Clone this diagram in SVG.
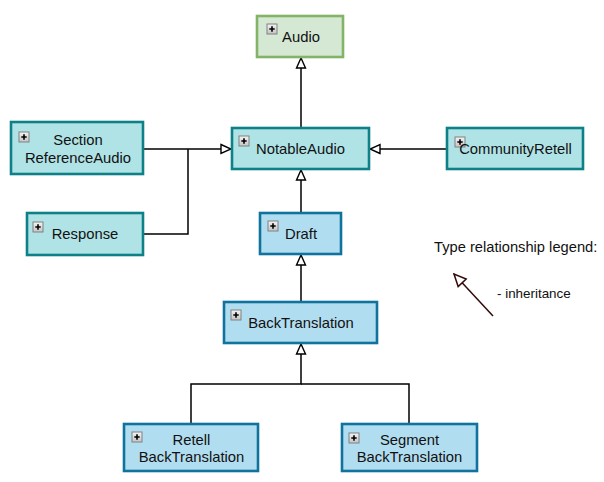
<svg xmlns="http://www.w3.org/2000/svg" width="604" height="482" viewBox="0 0 604 482">
<defs>
<marker id="inh" viewBox="0 0 12 12" refX="11" refY="6" markerWidth="12" markerHeight="12" markerUnits="userSpaceOnUse" orient="auto">
<path d="M1,1.5 L11,6 L1,10.5 Z" fill="#ffffff" stroke="#000000" stroke-width="1.4"/>
</marker>
<marker id="inhL" viewBox="0 0 14 14" refX="13" refY="7" markerWidth="14" markerHeight="14" markerUnits="userSpaceOnUse" orient="auto">
<path d="M1,1.5 L13,7 L1,12.5 Z" fill="#ffffff" stroke="#330a0a" stroke-width="1.5"/>
</marker>
<linearGradient id="ig" x1="0" y1="0" x2="0" y2="1">
<stop offset="0" stop-color="#f4f4f4"/>
<stop offset="1" stop-color="#c4c4c4"/>
</linearGradient>
<g id="plus">
<rect x="0" y="0" width="10" height="10" fill="url(#ig)" stroke="#808080" stroke-width="1"/>
<path d="M2.3,5 H7.7 M5,2.3 V7.7" stroke="#000000" stroke-width="1.6"/>
</g>
</defs>
<style>
text{font-family:"Liberation Sans",Arial,sans-serif;font-size:14.8px;fill:#111111;text-anchor:middle}
.green{fill:#d5e8d4;stroke:#82b366;stroke-width:2.6}
.teal{fill:#b0e3e6;stroke:#0e8088;stroke-width:2.6}
.blue{fill:#b1ddf0;stroke:#10739e;stroke-width:2.6}
.conn{fill:none;stroke:#000000;stroke-width:1.5}
.legend{text-anchor:start;font-size:14.7px}
.legsm{text-anchor:start;font-size:13.4px}
</style>
<rect x="0" y="0" width="604" height="482" fill="#ffffff"/>
<g id="connectors">
<path class="conn" d="M301,128 V58" marker-end="url(#inh)"/>
<path class="conn" d="M143,149 H231" marker-end="url(#inh)"/>
<path class="conn" d="M143,234 H188 V149"/>
<path class="conn" d="M447,149 H370" marker-end="url(#inh)"/>
<path class="conn" d="M301,213 V170" marker-end="url(#inh)"/>
<path class="conn" d="M301,302 V255" marker-end="url(#inh)"/>
<path class="conn" d="M191,424 V384 H301 V344" marker-end="url(#inh)"/>
<path class="conn" d="M409,424 V384 H301"/>
<path d="M493,316 L454,274" fill="none" stroke="#330a0a" stroke-width="1.5" marker-end="url(#inhL)"/>
</g>
<g id="node-audio">
<rect class="green" x="257" y="16" width="86" height="41"/>
<use href="#plus" x="267" y="24"/>
<text x="301" y="42">Audio</text>
</g>
<g id="node-notableaudio">
<rect class="teal" x="232" y="128" width="137" height="41"/>
<use href="#plus" x="239" y="136"/>
<text x="300.5" y="154">NotableAudio</text>
</g>
<g id="node-sectionreferenceaudio">
<rect class="teal" x="11" y="122" width="132" height="52"/>
<use href="#plus" x="19" y="132"/>
<text x="78" y="145">Section</text>
<text x="78" y="163">ReferenceAudio</text>
</g>
<g id="node-response">
<rect class="teal" x="27" y="213" width="116" height="42"/>
<use href="#plus" x="33" y="222"/>
<text x="85" y="239">Response</text>
</g>
<g id="node-communityretell">
<rect class="teal" x="447" y="128" width="136" height="41"/>
<use href="#plus" x="455" y="137"/>
<text x="515.5" y="154">CommunityRetell</text>
</g>
<g id="node-draft">
<rect class="blue" x="260" y="213" width="81" height="41"/>
<use href="#plus" x="268" y="221"/>
<text x="301" y="239">Draft</text>
</g>
<g id="node-backtranslation">
<rect class="blue" x="224" y="302" width="153" height="41"/>
<use href="#plus" x="231" y="310"/>
<text x="301" y="328">BackTranslation</text>
</g>
<g id="node-retellbacktranslation">
<rect class="blue" x="124" y="424" width="134" height="47"/>
<use href="#plus" x="132" y="432"/>
<text x="191.5" y="445">Retell</text>
<text x="191.5" y="462">BackTranslation</text>
</g>
<g id="node-segmentbacktranslation">
<rect class="blue" x="342" y="424" width="135" height="47"/>
<use href="#plus" x="349" y="433"/>
<text x="409.5" y="445">Segment</text>
<text x="409.5" y="462">BackTranslation</text>
</g>
<g id="legend">
<text class="legend" x="434" y="252">Type relationship legend:</text>
<text class="legsm" x="497" y="298">- inheritance</text>
</g>
</svg>
